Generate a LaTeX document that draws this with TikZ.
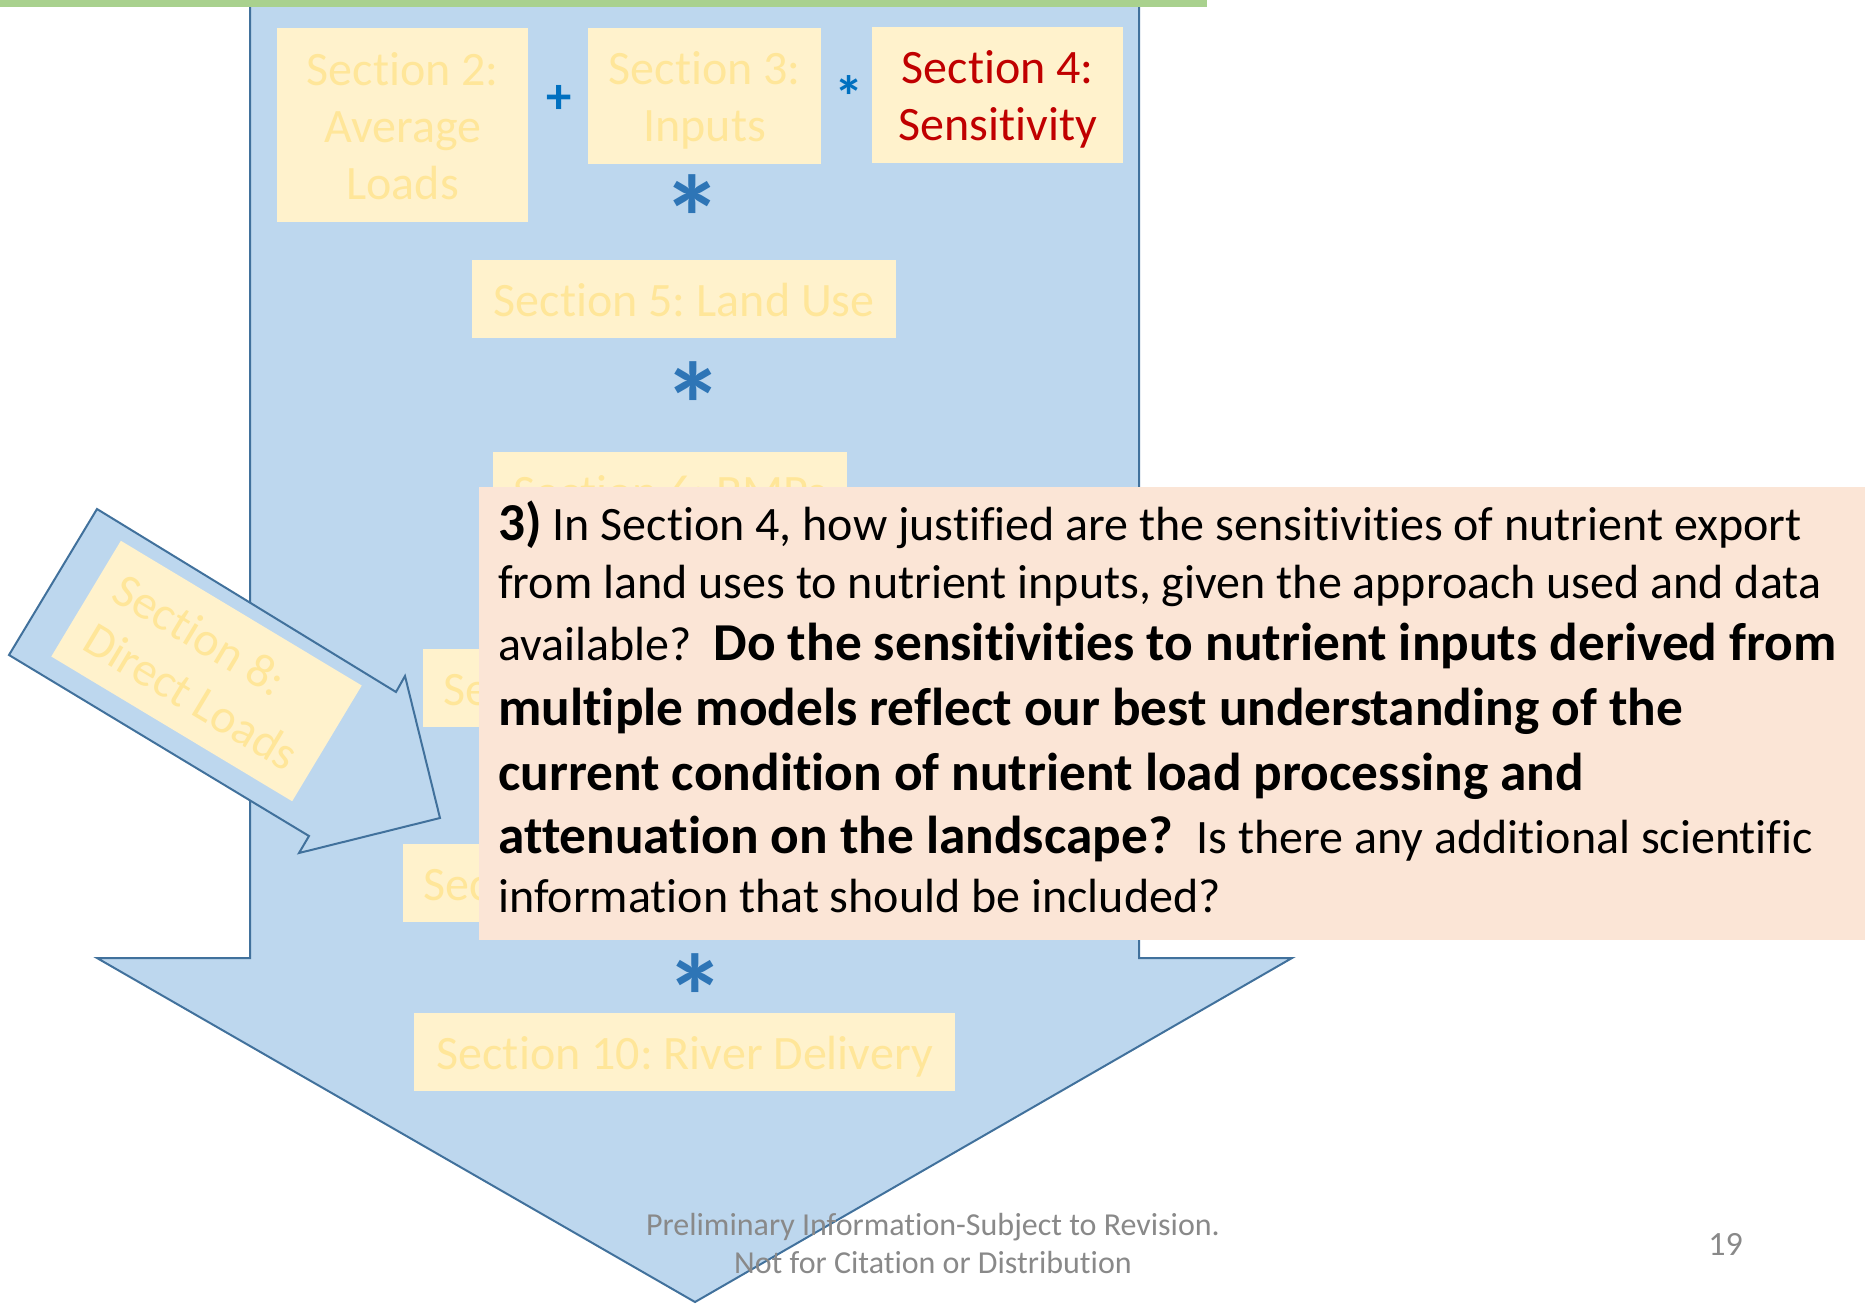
\documentclass[tikz,border=0pt]{standalone}
\usepackage{fontspec}
\setmainfont{Carlito}[Ligatures={NoCommon,NoRequired,NoContextual}]
\newcommand\pxu{0.75pt}
\newcommand\bxstrut{\rule[-6.5pt]{0pt}{38.5pt}}
\definecolor{arrowblue}{HTML}{BDD7EE}
\definecolor{arrowedge}{HTML}{41719C}
\definecolor{greenbar}{HTML}{A9D18E}
\definecolor{boxyellow}{HTML}{FFF2CC}
\definecolor{secyellow}{HTML}{FFE699}
\definecolor{secred}{HTML}{C00000}
\definecolor{plusblue}{HTML}{0070C0}
\definecolor{astblue}{HTML}{2E75B6}
\definecolor{peach}{HTML}{FBE5D6}
\definecolor{footgray}{HTML}{898989}
\frenchspacing
\begin{document}
\begin{tikzpicture}[x=0.75pt,y=-0.75pt,
  arrowshape/.style={fill=arrowblue},
  arrowborder/.style={draw=arrowedge, line width=1.5pt, line join=miter},
  secbox/.style={fill=boxyellow, text=secyellow, inner ysep=0pt, inner xsep=15pt,
    font=\fontsize{36}{42.75}\selectfont, align=center, anchor=north west},
  bigast/.style={text=astblue, font=\fontsize{90}{90}\selectfont\bfseries, inner sep=0pt},
  opsign/.style={text=plusblue, font=\fontsize{38}{38}\selectfont\bfseries, inner sep=0pt},
  qline/.style={anchor=base west, inner sep=0pt},
  footer/.style={text=footgray, font=\fontsize{24}{28}\selectfont, anchor=base, inner sep=0pt}]
\useasboundingbox (0,0) rectangle (1865,1303);
\newcommand\rg{\fontsize{36}{43}\selectfont\mdseries}
\newcommand\bd{\fontsize{40}{48}\selectfont\bfseries}

% big down arrow
\fill[arrowshape] (250,-5) -- (250,958) -- (97,958) -- (695,1302) -- (1292,958) -- (1139,958) -- (1139,-5) -- cycle;
\draw[arrowborder] (250,-5) -- (250,958) -- (97,958) -- (695,1302) -- (1292,958) -- (1139,958) -- (1139,-5);

% green bar
\fill[greenbar] (0,0) rectangle (1207,7);

% section boxes
\node[secbox, minimum width=251*\pxu, minimum height=194*\pxu] (s2) at (277,28)
  {\bxstrut Section 2:\\\bxstrut Average\\\bxstrut Loads};
\node[secbox, minimum width=233*\pxu, minimum height=136*\pxu] (s3) at (588,28)
  {\bxstrut Section 3:\\\bxstrut Inputs};
\node[secbox, text=secred, minimum width=251*\pxu, minimum height=136*\pxu] (s4) at (872,27)
  {\bxstrut Section 4:\\\bxstrut Sensitivity};
\node[secbox, minimum width=424*\pxu, minimum height=78*\pxu] (s5) at (472,260)
  {\bxstrut Section 5: Land Use};
\node[secbox, minimum width=354*\pxu, minimum height=78*\pxu] (s6) at (493,452)
  {\bxstrut Section 6: BMPs};
\node[secbox, minimum height=78*\pxu] (s7) at (423,649)
  {\bxstrut Section 7: Land to Water};
\node[secbox, minimum height=78*\pxu] (s9) at (403,844)
  {\bxstrut Section 9: Stream to River};
\node[secbox, minimum width=541*\pxu, minimum height=78*\pxu] (s10) at (414,1013)
  {\bxstrut Section 10: River Delivery};

% operators
\node[opsign] (plus) at (559,99) {+};
\node[opsign, font=\fontsize{44}{44}\selectfont\bfseries] (times1) at (849,97) {*};
\node[bigast] (ast1) at (692,218) {*};
\node[bigast] (ast2) at (693,405) {*};
\node[bigast] (ast4) at (695,997) {*};

% direct loads arrow
\fill[arrowshape] (97,509) -- (396,692) -- (405,676) -- (440,818) -- (299,853) -- (309,836) -- (9,655) -- cycle;
\draw[arrowborder] (97,509) -- (396,692) -- (405,676) -- (440,818) -- (299,853) -- (309,836) -- (9,655) -- cycle;
\node[fill=boxyellow, text=secyellow, inner sep=0pt, font=\fontsize{36}{42.75}\selectfont,
  align=left, rotate=-31, minimum width=281*\pxu, minimum height=135*\pxu] (s8) at (206.5,671)
  {\bxstrut Section 8:\\\bxstrut Direct Loads};

% question box
\node[fill=peach, anchor=north west, inner sep=0pt, minimum width=1390*\pxu, minimum height=453*\pxu] (qbox) at (479,487) {};
\node[qline] (q1) at (498,540) {\bd 3)\rg{} In Section 4, how justified are the sensitivities of nutrient export};
\node[qline] (q2) at (498,598) {\rg from land uses to nutrient inputs, given the approach used and data};
\node[qline] (q3) at (498,660) {\rg available?~ \bd Do the sensitivities to nutrient inputs derived from};
\node[qline] (q4) at (498,725) {\bd multiple models reflect our best understanding of the};
\node[qline] (q5) at (498,790) {\bd current condition of nutrient load processing and};
\node[qline] (q6) at (498,853) {\bd attenuation on the landscape?~ \rg Is there any additional scientific};
\node[qline] (q7) at (498,912) {\rg information that should be included?};

% footer
\node[footer] (f1) at (933,1235) {Preliminary Information-Subject to Revision.};
\node[footer] (f2) at (933,1273) {Not for Citation or Distribution};
\node[footer, font=\fontsize{25.5}{30}\selectfont, anchor=base west] (pg) at (1708,1255) {19};
\end{tikzpicture}
\end{document}
